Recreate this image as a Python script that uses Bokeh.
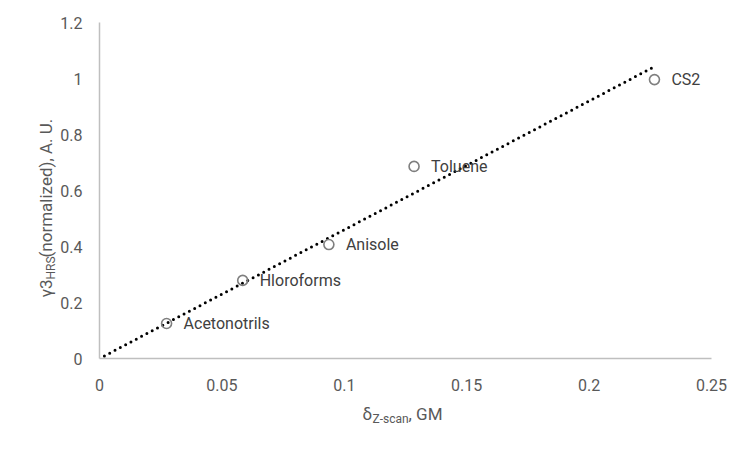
import numpy as np

from bokeh.core.properties import value
from bokeh.embed import file_html
from bokeh.models import ColumnDataSource, LabelSet
from bokeh.plotting import figure
from bokeh.resources import INLINE

# solvents: Z-scan delta (GM) vs normalized gamma3 (HRS)
solvents = ["Acetonotrils", "Hloroforms", "Anisole", "Toluene", "CS2"]
delta_zscan = [0.0274, 0.0585, 0.0937, 0.1285, 0.2267]
gamma3_hrs = [0.125, 0.279, 0.407, 0.686, 0.996]

x_ticks = [0, 0.05, 0.1, 0.15, 0.2, 0.25]
x_tick_labels = ["0", "0.05", "0.1", "0.15", "0.2", "0.25"]
y_ticks = [0, 0.2, 0.4, 0.6, 0.8, 1.0, 1.2]
y_tick_labels = ["0", "0.2", "0.4", "0.6", "0.8", "1", "1.2"]

# linear trendline through the origin
xs = np.array(delta_zscan)
ys = np.array(gamma3_hrs)
slope = (xs * ys).sum() / (xs * xs).sum()
trend_x = [0.002, xs.max()]
trend_y = [slope * v for v in trend_x]

FONT = "Roboto"
TEXT = "#595959"
AXIS = "#bfbfbf"

X_MAX, Y_MAX = x_ticks[-1], y_ticks[-1]
W, H = 750, 451
# plot area in page pixels: the canvas itself is the frame, axes are drawn by hand
LEFT, RIGHT, TOP, BOTTOM = 99, 39, 22, 93
sx = X_MAX / (W - LEFT - RIGHT)
sy = Y_MAX / (H - TOP - BOTTOM)

p = figure(width=W, height=H,
           x_range=(-LEFT * sx, X_MAX + RIGHT * sx),
           y_range=(-BOTTOM * sy, Y_MAX + TOP * sy),
           x_axis_location=None, y_axis_location=None,
           output_backend="svg", toolbar_location=None, tools="",
           min_border=0)
p.outline_line_color = None
p.grid.visible = False
p.background_fill_color = "white"

# axis lines
p.segment(x0=[0, 0], y0=[0, 0], x1=[X_MAX, 0], y1=[0, Y_MAX],
          line_color=AXIS, line_width=1.5)

# tick labels
p.text(x=x_ticks, y=[0] * len(x_ticks), text=x_tick_labels, y_offset=26,
       text_align="center", text_baseline="middle", text_font=value(FONT),
       text_font_size="16px", text_color=TEXT)
p.text(x=[0] * len(y_ticks), y=y_ticks, text=y_tick_labels, x_offset=-17,
       text_align="right", text_baseline="middle", text_font=value(FONT),
       text_font_size="16px", text_color=TEXT)

p.line(trend_x, trend_y, line_color="black", line_width=3,
       line_dash="0 6", line_cap="round")

src = ColumnDataSource(dict(x=delta_zscan, y=gamma3_hrs, name=solvents))
p.scatter("x", "y", source=src, size=10, fill_color=None,
          line_color="#7f7f7f", line_width=1.6)
p.add_layout(LabelSet(x="x", y="y", text="name", source=src, x_offset=17,
                      text_baseline="middle", text_font=value(FONT),
                      text_font_size=value("16px"), text_color="#404040"))

# axis titles with subscripts, placed by page pixel
def title_part(text, px, py, size, angle=0):
    x = (px - LEFT) * sx
    y = (H - BOTTOM - py) * sy
    p.text(x=[x], y=[y], text=[text], angle=angle, text_font=value(FONT),
           text_font_size=size, text_color=TEXT,
           text_align="left", text_baseline="middle")

title_part("δ", 362, 413, "17px")
title_part("Z-scan", 372, 418, "12px")
title_part(", GM", 408, 413, "17px")

title_part("γ3", 45, 297, "17px", np.pi / 2)
title_part("HRS", 50, 279, "12px", np.pi / 2)
title_part("(normalized), A. U.", 45, 257, "17px", np.pi / 2)

open("out.html", "w").write(file_html(p, INLINE))
